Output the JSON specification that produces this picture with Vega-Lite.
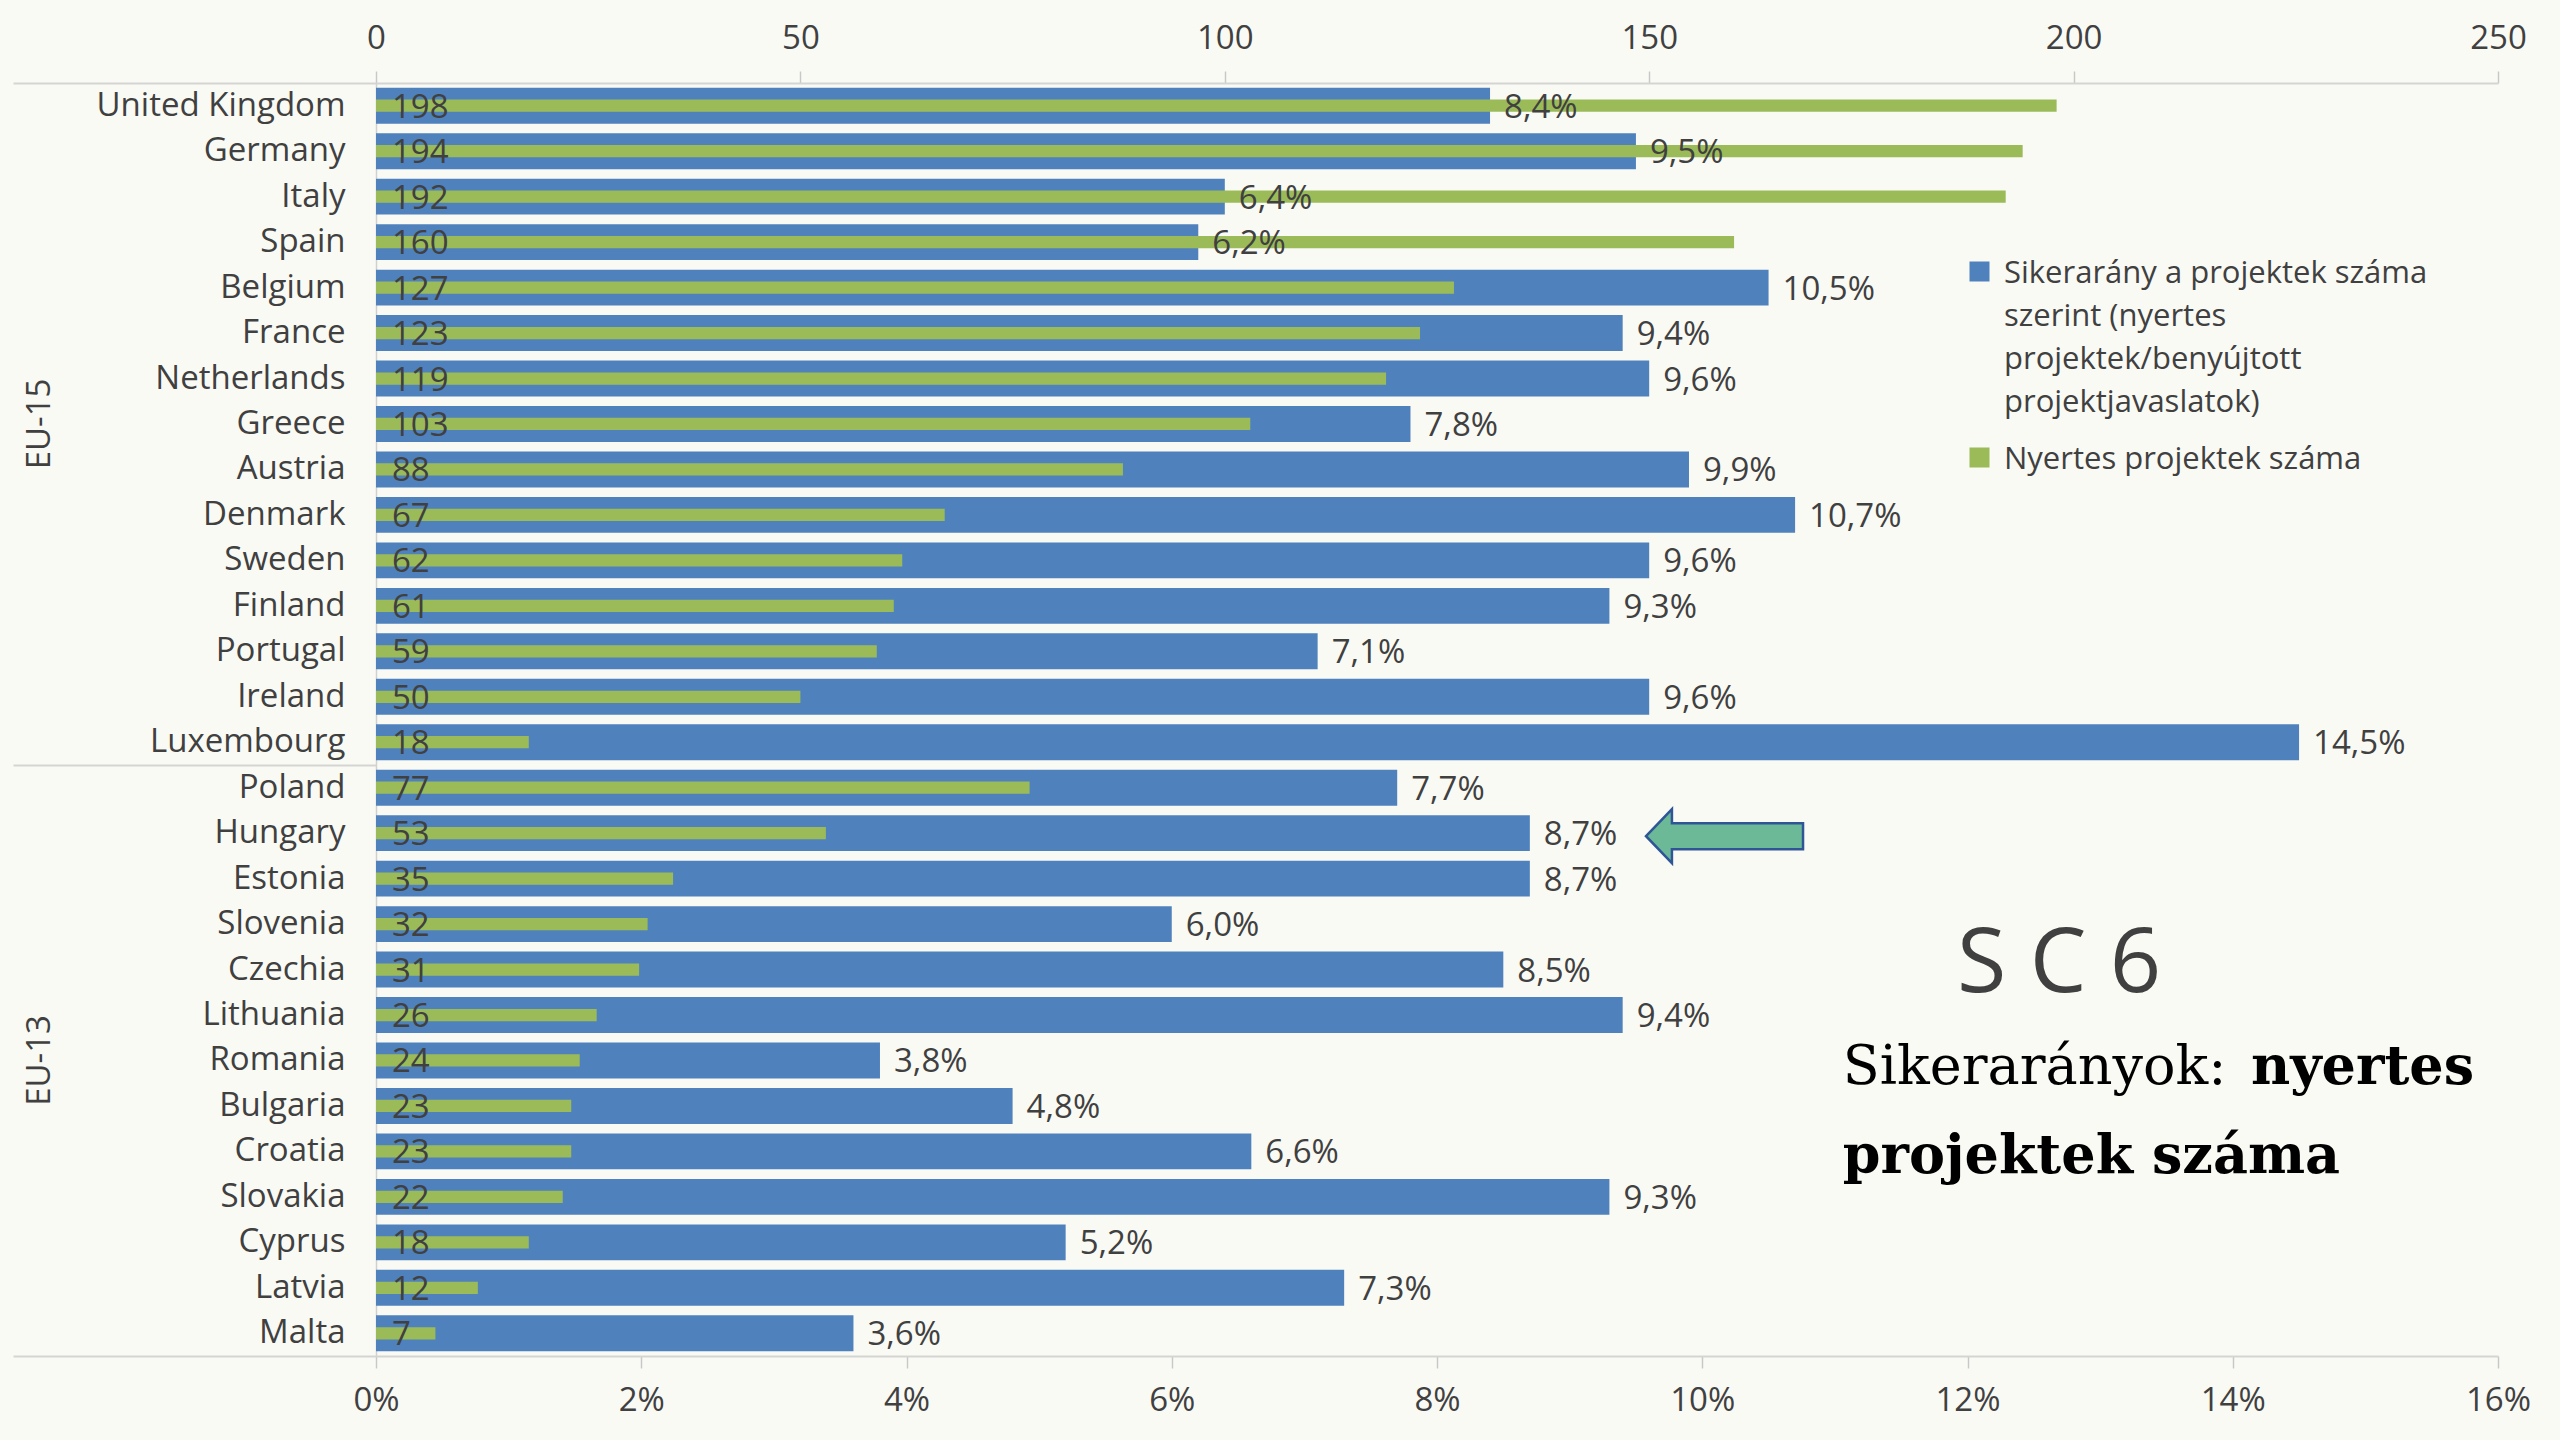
{
  "$schema": "https://vega.github.io/schema/vega-lite/v6.json",
  "width": 2122,
  "height": 1273,
  "autosize": {"type": "none"},
  "padding": {"left": 376, "top": 83, "right": 62, "bottom": 84},
  "background": "#FAFAF5",
  "data": {
    "values": [
      {"country": "United Kingdom", "projects": 198, "rate": 0.084},
      {"country": "Germany", "projects": 194, "rate": 0.095},
      {"country": "Italy", "projects": 192, "rate": 0.064},
      {"country": "Spain", "projects": 160, "rate": 0.062},
      {"country": "Belgium", "projects": 127, "rate": 0.105},
      {"country": "France", "projects": 123, "rate": 0.094},
      {"country": "Netherlands", "projects": 119, "rate": 0.096},
      {"country": "Greece", "projects": 103, "rate": 0.078},
      {"country": "Austria", "projects": 88, "rate": 0.099},
      {"country": "Denmark", "projects": 67, "rate": 0.107},
      {"country": "Sweden", "projects": 62, "rate": 0.096},
      {"country": "Finland", "projects": 61, "rate": 0.093},
      {"country": "Portugal", "projects": 59, "rate": 0.071},
      {"country": "Ireland", "projects": 50, "rate": 0.096},
      {"country": "Luxembourg", "projects": 18, "rate": 0.145},
      {"country": "Poland", "projects": 77, "rate": 0.077},
      {"country": "Hungary", "projects": 53, "rate": 0.087},
      {"country": "Estonia", "projects": 35, "rate": 0.087},
      {"country": "Slovenia", "projects": 32, "rate": 0.060},
      {"country": "Czechia", "projects": 31, "rate": 0.085},
      {"country": "Lithuania", "projects": 26, "rate": 0.094},
      {"country": "Romania", "projects": 24, "rate": 0.038},
      {"country": "Bulgaria", "projects": 23, "rate": 0.048},
      {"country": "Croatia", "projects": 23, "rate": 0.066},
      {"country": "Slovakia", "projects": 22, "rate": 0.093},
      {"country": "Cyprus", "projects": 18, "rate": 0.052},
      {"country": "Latvia", "projects": 12, "rate": 0.073},
      {"country": "Malta", "projects": 7, "rate": 0.036}
    ]
  },
  "resolve": {"scale": {"x": "independent"}, "axis": {"y": "independent"}},
  "layer": [
    {
      "mark": {"type": "bar", "height": {"band": 0.79}},
      "encoding": {
        "y": {
          "field": "country", "type": "nominal", "title": null,
          "scale": {"domain": ["United Kingdom","Germany","Italy","Spain","Belgium","France","Netherlands","Greece","Austria","Denmark","Sweden","Finland","Portugal","Ireland","Luxembourg","Poland","Hungary","Estonia","Slovenia","Czechia","Lithuania","Romania","Bulgaria","Croatia","Slovakia","Cyprus","Latvia","Malta"], "paddingInner": 0, "paddingOuter": 0},
          "axis": {"orient": "left", "offset": 0, "ticks": false, "tickSize": 0, "labelPadding": 31, "domain": true, "domainColor": "#D0D0D0", "domainWidth": 1.5, "labelLimit": 400, "labelOverlap": false}
        },
        "x": {
          "field": "rate", "type": "quantitative", "title": null,
          "scale": {"domain": [0, 0.16], "nice": false, "zero": true},
          "axis": {"orient": "bottom", "offset": 0, "values": [0, 0.02, 0.04, 0.06, 0.08, 0.1, 0.12, 0.14, 0.16], "format": ".0%", "tickSize": 12, "tickWidth": 1.5, "labelPadding": 16, "domainWidth": 2, "labelFlush": false, "labelOverlap": false}
        },
        "color": {
          "datum": "Sikerarány a projektek száma szerint (nyertes projektek/benyújtott projektjavaslatok)",
          "type": "nominal",
          "scale": {"domain": ["Sikerarány a projektek száma szerint (nyertes projektek/benyújtott projektjavaslatok)", "Nyertes projektek száma"], "range": ["#4F81BD", "#9BBB59"]},
          "legend": {
            "orient": "none", "legendX": 1588, "legendY": 173, "padding": 0, "title": null,
            "symbolType": "square", "symbolSize": 400, "symbolStrokeWidth": 0,
            "labelFont": "Open Sans", "labelFontSize": 31, "labelColor": "#404040", "labelLimit": 1000, "labelOffset": 9, "labelBaseline": "top",
            "rowPadding": 24,
            "labelExpr": "datum.label == 'Nyertes projektek száma' ? datum.label : ['Sikerarány a projektek száma', 'szerint (nyertes', 'projektek/benyújtott', 'projektjavaslatok)']",
            "encode": {"labels": {"update": {"lineHeight": {"value": 43}, "dy": {"value": -13}}}}
          }
        }
      }
    },
    {
      "mark": {"type": "bar", "height": {"band": 0.27}},
      "encoding": {
        "y": {
          "field": "country", "type": "nominal", "title": null,
          "scale": {"domain": ["United Kingdom","Germany","Italy","Spain","Belgium","France","Netherlands","Greece","Austria","Denmark","Sweden","Finland","Portugal","Ireland","Luxembourg","Poland","Hungary","Estonia","Slovenia","Czechia","Lithuania","Romania","Bulgaria","Croatia","Slovakia","Cyprus","Latvia","Malta"], "paddingInner": 0, "paddingOuter": 0},
          "axis": {"orient": "left", "offset": 0, "values": ["United Kingdom", "Poland"], "labels": false, "domain": false, "ticks": true, "tickSize": 363, "tickOffset": -22.73, "tickColor": "#D4D4D4", "tickWidth": 2}
        },
        "x": {
          "field": "projects", "type": "quantitative", "title": null,
          "scale": {"domain": [0, 250], "nice": false, "zero": true},
          "axis": {"orient": "top", "offset": 0, "values": [0, 50, 100, 150, 200, 250], "tickSize": 12, "tickWidth": 1.5, "labelPadding": 16, "domainWidth": 2, "labelFlush": false, "labelOverlap": false}
        },
        "color": {"datum": "Nyertes projektek száma", "type": "nominal"}
      }
    },
    {
      "mark": {"type": "text", "align": "left", "baseline": "middle", "dx": 16, "dy": 2, "font": "Open Sans", "fontSize": 33, "color": "#404040"},
      "encoding": {
        "y": {
          "field": "country", "type": "nominal", "title": null,
          "scale": {"domain": ["United Kingdom","Germany","Italy","Spain","Belgium","France","Netherlands","Greece","Austria","Denmark","Sweden","Finland","Portugal","Ireland","Luxembourg","Poland","Hungary","Estonia","Slovenia","Czechia","Lithuania","Romania","Bulgaria","Croatia","Slovakia","Cyprus","Latvia","Malta"], "paddingInner": 0, "paddingOuter": 0},
          "axis": {"orient": "left", "offset": 0, "values": ["Malta"], "labels": false, "domain": false, "ticks": true, "tickSize": 363, "tickOffset": 22.73, "tickColor": "#D4D4D4", "tickWidth": 2}
        },
        "x": {"datum": 0, "type": "quantitative", "scale": {"domain": [0, 250], "nice": false}, "axis": null},
        "text": {"field": "projects", "type": "quantitative"}
      }
    },
    {
      "mark": {"type": "text", "align": "left", "baseline": "middle", "dx": 14, "dy": 2, "font": "Open Sans", "fontSize": 33, "color": "#404040"},
      "encoding": {
        "y": {
          "field": "country", "type": "nominal", "title": null,
          "scale": {"domain": ["United Kingdom","Germany","Italy","Spain","Belgium","France","Netherlands","Greece","Austria","Denmark","Sweden","Finland","Portugal","Ireland","Luxembourg","Poland","Hungary","Estonia","Slovenia","Czechia","Lithuania","Romania","Bulgaria","Croatia","Slovakia","Cyprus","Latvia","Malta"], "paddingInner": 0, "paddingOuter": 0},
          "axis": {"orient": "left", "offset": 0, "values": ["Greece", "Romania"], "labelExpr": "datum.value == 'Greece' ? 'EU-15' : 'EU-13'", "labelAngle": 270, "labelAlign": "center", "labelBaseline": "middle", "labelPadding": 337, "ticks": false, "tickSize": 0, "domain": false, "labelOverlap": false}
        },
        "x": {"field": "rate", "type": "quantitative", "scale": {"domain": [0, 0.16], "nice": false}, "axis": null},
        "text": {"field": "rate", "type": "quantitative", "format": ".1%"}
      }
    },
    {
      "data": {"values": [{}]},
      "mark": {"type": "point", "shape": "M -1 0 L -0.67 -0.344 L -0.67 -0.166 L 1 -0.166 L 1 0.166 L -0.67 0.166 L -0.67 0.344 Z", "size": 24649, "filled": true, "fill": "#6BB997", "stroke": "#2F5597", "strokeWidth": 2.5, "opacity": 1, "yOffset": 3},
      "encoding": {
        "x": {"datum": 0.10168, "type": "quantitative", "scale": {"domain": [0, 0.16], "nice": false}, "axis": null},
        "y": {"datum": "Hungary", "type": "nominal", "scale": {"domain": ["United Kingdom","Germany","Italy","Spain","Belgium","France","Netherlands","Greece","Austria","Denmark","Sweden","Finland","Portugal","Ireland","Luxembourg","Poland","Hungary","Estonia","Slovenia","Czechia","Lithuania","Romania","Bulgaria","Croatia","Slovakia","Cyprus","Latvia","Malta"], "paddingInner": 0, "paddingOuter": 0}, "axis": null}
      }
    },
    {
      "data": {"values": [{}]},
      "mark": {"type": "text", "text": "S C 6", "font": "Open Sans", "fontSize": 90, "color": "#404040", "align": "left", "baseline": "middle", "dy": -5},
      "encoding": {
        "x": {"datum": 0.11921, "type": "quantitative", "scale": {"domain": [0, 0.16], "nice": false}, "axis": null},
        "y": {"datum": "Czechia", "type": "nominal", "scale": {"domain": ["United Kingdom","Germany","Italy","Spain","Belgium","France","Netherlands","Greece","Austria","Denmark","Sweden","Finland","Portugal","Ireland","Luxembourg","Poland","Hungary","Estonia","Slovenia","Czechia","Lithuania","Romania","Bulgaria","Croatia","Slovakia","Cyprus","Latvia","Malta"], "paddingInner": 0, "paddingOuter": 0}, "axis": null}
      }
    },
    {
      "data": {"values": [{}]},
      "mark": {"type": "text", "text": "Sikerarányok:", "font": "DejaVu Serif", "fontSize": 54, "color": "#000000", "align": "left", "baseline": "middle", "dy": 8},
      "encoding": {
        "x": {"datum": 0.1106, "type": "quantitative", "scale": {"domain": [0, 0.16], "nice": false}, "axis": null},
        "y": {"datum": "Romania", "type": "nominal", "scale": {"domain": ["United Kingdom","Germany","Italy","Spain","Belgium","France","Netherlands","Greece","Austria","Denmark","Sweden","Finland","Portugal","Ireland","Luxembourg","Poland","Hungary","Estonia","Slovenia","Czechia","Lithuania","Romania","Bulgaria","Croatia","Slovakia","Cyprus","Latvia","Malta"], "paddingInner": 0, "paddingOuter": 0}, "axis": null}
      }
    },
    {
      "data": {"values": [{}]},
      "mark": {"type": "text", "text": "nyertes", "font": "DejaVu Serif", "fontWeight": "bold", "fontSize": 54, "color": "#000000", "align": "right", "baseline": "middle", "dy": 8},
      "encoding": {
        "x": {"datum": 0.1582, "type": "quantitative", "scale": {"domain": [0, 0.16], "nice": false}, "axis": null},
        "y": {"datum": "Romania", "type": "nominal", "scale": {"domain": ["United Kingdom","Germany","Italy","Spain","Belgium","France","Netherlands","Greece","Austria","Denmark","Sweden","Finland","Portugal","Ireland","Luxembourg","Poland","Hungary","Estonia","Slovenia","Czechia","Lithuania","Romania","Bulgaria","Croatia","Slovakia","Cyprus","Latvia","Malta"], "paddingInner": 0, "paddingOuter": 0}, "axis": null}
      }
    },
    {
      "data": {"values": [{}]},
      "mark": {"type": "text", "text": "projektek száma", "font": "DejaVu Serif", "fontWeight": "bold", "fontSize": 54, "color": "#000000", "align": "left", "baseline": "middle", "dy": 6},
      "encoding": {
        "x": {"datum": 0.1106, "type": "quantitative", "scale": {"domain": [0, 0.16], "nice": false}, "axis": null},
        "y": {"datum": "Croatia", "type": "nominal", "scale": {"domain": ["United Kingdom","Germany","Italy","Spain","Belgium","France","Netherlands","Greece","Austria","Denmark","Sweden","Finland","Portugal","Ireland","Luxembourg","Poland","Hungary","Estonia","Slovenia","Czechia","Lithuania","Romania","Bulgaria","Croatia","Slovakia","Cyprus","Latvia","Malta"], "paddingInner": 0, "paddingOuter": 0}, "axis": null}
      }
    }
  ],
  "config": {
    "font": "Open Sans",
    "view": {"stroke": null},
    "locale": {"number": {"decimal": ",", "thousands": " ", "grouping": [3], "currency": ["", ""]}},
    "axis": {"labelFont": "Open Sans", "labelFontSize": 33, "labelColor": "#404040", "grid": false, "domainColor": "#D4D4D4", "tickColor": "#C8C8C8"}
  }
}
